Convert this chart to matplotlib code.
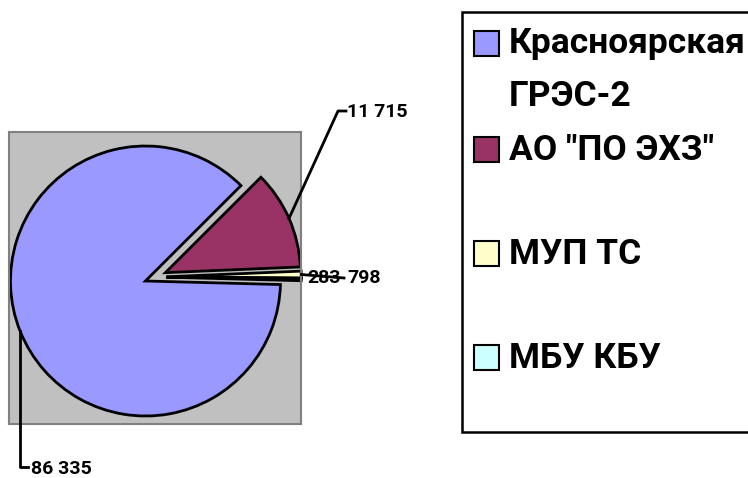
import matplotlib
matplotlib.use("Agg")
import matplotlib.pyplot as plt
from matplotlib.patches import Rectangle
import numpy as np

plt.rcParams['font.family'] = ['Roboto', 'DejaVu Sans']

categories = ['Красноярская\nГРЭС-2', 'АО "ПО ЭХЗ"', 'МУП ТС', 'МБУ КБУ']
values = [86335, 11715, 798, 283]
value_labels = ['86 335', '11 715', '798', '283']
colors = ['#9999FF', '#993366', '#FFFFCC', '#CCFFFF']

W, H = 748, 478
fig = plt.figure(figsize=(W / 100, H / 100), dpi=100)

# plot area in pixel coords (image coords: y down)
pl, pr, pt, pb = 9, 301, 132, 424
ax = fig.add_axes([pl / W, 1 - pb / H, (pr - pl) / W, (pb - pt) / H])
cx, cy = 155.5 - pl, pb - 277.0
R = 135.0
EXPL = 0.08 * R
wedges, _ = ax.pie(values, colors=colors, startangle=-1.5, counterclock=False,
                   explode=[EXPL] * 4, center=(cx, cy), radius=R, frame=True,
                   wedgeprops=dict(edgecolor='black', linewidth=2.0, clip_on=False))
ax.set_xlim(0, pr - pl)
ax.set_ylim(0, pb - pt)
ax.set_aspect('equal', adjustable='box')
ax.set_facecolor('#C0C0C0')
for s in ax.spines.values():
    s.set_color('#808080')
    s.set_linewidth(1.5)
ax.set_xticks([])
ax.set_yticks([])

def fig_px(x, y):
    return (x / W, 1 - y / H)

def arc_point(w):
    mid = np.deg2rad((w.theta1 + w.theta2) / 2)
    return (w.center[0] + w.r * np.cos(mid), w.center[1] + w.r * np.sin(mid))

def to_fig(p):
    return fig.transFigure.inverted().transform(ax.transData.transform(p))

lab_kw = dict(fontsize=14, fontweight='bold', color='black', va='center', ha='left')
line_kw = dict(color='black', linewidth=2.0)

# Blue label
fx0, fy0 = to_fig(arc_point(wedges[0]))
x1, y1 = fig_px(20, 467)
x2, y2 = fig_px(28, 467)
fig.add_artist(plt.Line2D([fx0, fx0, x2], [fy0, y1, y2], **line_kw))
fig.text(*fig_px(31, 469), value_labels[0], **lab_kw)

# Maroon label
fx1, fy1 = to_fig(arc_point(wedges[1]))
a = fig_px(338, 111)
b = fig_px(346, 111)
fig.add_artist(plt.Line2D([fx1, a[0], b[0]], [fy1, a[1], b[1]], **line_kw))
fig.text(*fig_px(347, 112), value_labels[1], **lab_kw)

# Yellow / cyan labels
fx2, fy2 = to_fig(arc_point(wedges[2]))
e = fig_px(344, 278)
fig.add_artist(plt.Line2D([fx2, e[0]], [fy2, e[1]], **line_kw))
fig.text(*fig_px(347, 278), value_labels[2], **lab_kw)
fig.text(*fig_px(307, 278), value_labels[3], **lab_kw)

# Legend box (manual, clipped at right edge like reference)
lx0, ly0, lx1, ly1 = 462, 12, 760, 432
fig.add_artist(Rectangle(fig_px(lx0, ly1), (lx1 - lx0) / W, (ly1 - ly0) / H,
                         transform=fig.transFigure, facecolor='white',
                         edgecolor='black', linewidth=1.8, zorder=0))
marker_y = [43, 150, 253, 357]
for cat, col, my in zip(categories, colors, marker_y):
    s = 25
    fig.add_artist(Rectangle(fig_px(474, my + s / 2), s / W, s / H,
                             transform=fig.transFigure, facecolor=col,
                             edgecolor='black', linewidth=1.5))
    for i, line in enumerate(cat.split('\n')):
        fig.text(*fig_px(509, my + 1 + 52 * i), line, fontsize=25.5,
                 fontweight='bold', va='center', ha='left')

fig.savefig('out.png', dpi=100)
